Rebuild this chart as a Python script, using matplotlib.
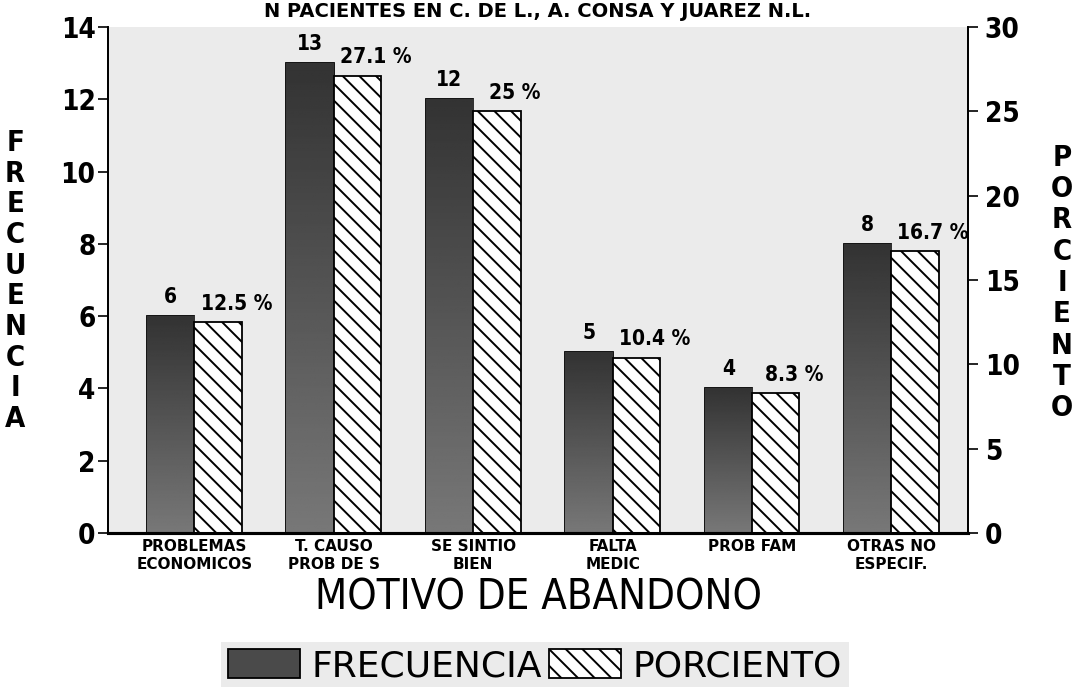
import matplotlib
matplotlib.use("Agg")
import matplotlib.pyplot as plt
import numpy as np

motivos = ["PROBLEMAS\nECONOMICOS", "T. CAUSO\nPROB DE S", "SE SINTIO\nBIEN",
           "FALTA\nMEDIC", "PROB FAM", "OTRAS NO\nESPECIF."]
frecuencia = [6, 13, 12, 5, 4, 8]
porciento = [12.5, 27.1, 25, 10.4, 8.3, 16.7]

freq_ticks = [0, 2, 4, 6, 8, 10, 12, 14]
pct_ticks = [0, 5, 10, 15, 20, 25, 30]

plt.rcParams["hatch.linewidth"] = 1.4

fig = plt.figure(figsize=(10.76, 6.87), dpi=100)
ax = fig.add_axes([0.1004, 0.2242, 0.7992, 0.7365])
ax2 = ax.twinx()

x = np.arange(len(motivos))
w = 0.34
ax.set_facecolor("#ebebeb")
ax2.patch.set_visible(False)

bars_f = ax.bar(x - w / 2, frecuencia, w, color="#4a4a4a", edgecolor="black",
                linewidth=1.3, label="FRECUENCIA", zorder=2)
# dark-to-grey shading inside the solid bars
grad = np.linspace(0.47, 0.2, 200).reshape(-1, 1)
for rect in bars_f:
    x0, h = rect.get_x(), rect.get_height()
    im = ax.imshow(grad, extent=[x0, x0 + w, 0, h], aspect="auto",
                   cmap="gray", vmin=0, vmax=1, zorder=2.5, origin="lower")
    im.set_clip_path(rect)

bars_p = ax2.bar(x + w / 2, porciento, w, color="white", edgecolor="black",
                 hatch="\\\\", linewidth=1.3, label="PORCIENTO", zorder=2)

for xi, v in zip(x, frecuencia):
    ax.text(xi - w / 2, v + 0.25, f"{v}", ha="center", va="bottom",
            fontsize=15, fontweight="bold", fontstretch="condensed")
for xi, v in zip(x, porciento):
    ax2.text(xi + w / 2 + 0.13, v + 0.5, f"{v:g} %", ha="center", va="bottom",
             fontsize=15, fontweight="bold", fontstretch="condensed")

ax.set_xlim(-0.62, 5.55)
ax.set_ylim(0, 14)
ax2.set_ylim(0, 30)
ax.set_yticks(freq_ticks)
ax2.set_yticks(pct_ticks)
ax.set_xticks(x)
ax.set_xticklabels(motivos, fontsize=11, fontweight="bold", linespacing=1.3)
ax.tick_params(axis="x", length=0, pad=4)
ax.tick_params(axis="y", length=7, width=1.2, pad=2, labelsize=20)
ax2.tick_params(axis="y", length=7, width=1.2, pad=5, labelsize=20)
for lab in ax.get_yticklabels() + ax2.get_yticklabels():
    lab.set_fontweight("bold")
    lab.set_fontstretch("condensed")

for a in (ax, ax2):
    a.spines["top"].set_visible(False)
    a.spines["left"].set_linewidth(1.3)
    a.spines["right"].set_linewidth(1.3)
    a.spines["bottom"].set_linewidth(2.2)

ax.set_xlabel("MOTIVO DE ABANDONO", fontsize=30, fontstretch="condensed",
              labelpad=3)

fig.text(0.014, 0.591, "\n".join("FRECUENCIA"), ha="center", va="center",
         fontsize=21, fontweight="bold", fontstretch="condensed",
         linespacing=1.12)
fig.text(0.987, 0.588, "\n".join("PORCIENTO"), ha="center", va="center",
         fontsize=21, fontweight="bold", fontstretch="condensed",
         linespacing=1.15)

fig.text(0.5, 0.997, "N PACIENTES EN C. DE L., A. CONSA Y JUAREZ N.L.",
         ha="center", va="top", fontsize=14, fontweight="bold")

leg = fig.legend(handles=[bars_f, bars_p], loc="center", ncol=2,
                 bbox_to_anchor=(0.497, 0.03), fontsize=26, frameon=True,
                 fancybox=False, handlelength=2.0, handleheight=0.85,
                 handletextpad=0.3, columnspacing=0.2, borderpad=0.2)
leg.get_frame().set_facecolor("#e6e6e6")
leg.get_frame().set_edgecolor("none")

fig.savefig("out.png", dpi=100)
